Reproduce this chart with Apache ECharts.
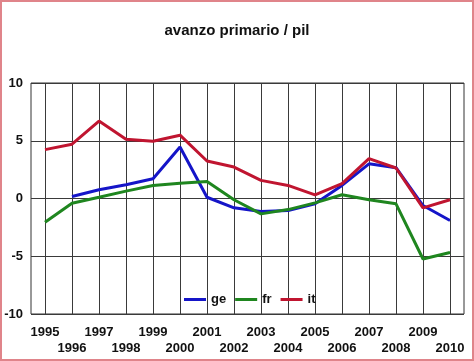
<!DOCTYPE html>
<html>
<head>
<meta charset="utf-8">
<script src="https://cdn.jsdelivr.net/npm/echarts@6/dist/echarts.min.js"></script>
<style>
html,body{margin:0;padding:0;background:#fff;}
#wrap{position:relative;width:474px;height:361px;}
#chart{width:474px;height:361px;}
#frame{position:absolute;left:0;top:0;width:474px;height:361px;box-sizing:border-box;border:2px solid #e0848a;pointer-events:none;}
</style>
</head>
<body>
<div id="wrap"><div id="chart"></div><div id="frame"></div></div>
<script>
const years = ['1995','1996','1997','1998','1999','2000','2001','2002','2003','2004','2005','2006','2007','2008','2009','2010'];
const ge = [null, 0.17, 0.76, 1.19, 1.71, 4.46, 0.11, -0.81, -1.13, -1.04, -0.46, 1.13, 3.0, 2.67, -0.61, -1.91];
const fr = [-2.06, -0.41, 0.11, 0.64, 1.13, 1.33, 1.48, -0.11, -1.33, -0.96, -0.38, 0.32, -0.11, -0.46, -5.24, -4.67];
const it = [4.23, 4.7, 6.7, 5.13, 4.96, 5.48, 3.25, 2.72, 1.57, 1.13, 0.32, 1.28, 3.45, 2.64, -0.81, -0.11];
const yMin = -10, yMax = 10, yStep = 5;

const chart = echarts.init(document.getElementById('chart'), null, {renderer: 'canvas'});
const font = 'Liberation Sans, Arial, sans-serif';
const mk = (name, data, color) => ({
  name, type: 'line', data, xAxisIndex: 1, yAxisIndex: 1,
  showSymbol: false, symbol: 'none', connectNulls: false,
  lineStyle: {color, width: 3}, itemStyle: {color},
  animation: false, z: 5
});
chart.setOption({
  backgroundColor: '#fff',
  animation: false,
  title: {
    text: 'avanzo primario / pil', left: 'center', top: 18,
    textStyle: {fontFamily: font, fontSize: 15, fontWeight: 'bold', color: '#111'}
  },
  legend: {
    left: 179, top: 288, itemWidth: 22, itemHeight: 3, itemGap: 9, icon: 'rect',
    textStyle: {fontFamily: font, fontSize: 13, fontWeight: 'bold', color: '#111'},
    data: ['ge', 'fr', 'it']
  },
  grid: [
    {left: 31, right: 10, top: 83, bottom: 47, show: true, borderColor: '#333', borderWidth: 1, backgroundColor: 'transparent'},
    {left: 45, right: 24, top: 83, bottom: 47}
  ],
  xAxis: [
    {type: 'value', gridIndex: 0, min: 0, max: 1, show: false},
    {type: 'category', gridIndex: 1, data: years, boundaryGap: false,
     axisLine: {show: false}, axisTick: {show: false},
     splitLine: {show: true, lineStyle: {color: '#3a3a3a', width: 1}},
     axisLabel: {margin: 10, interval: 0, fontFamily: font, fontSize: 13, fontWeight: 'bold', color: '#111', lineHeight: 16,
       formatter: (v, i) => (i % 2 ? '\n' + v : v)}}
  ],
  yAxis: [
    {type: 'value', gridIndex: 0, min: yMin, max: yMax, interval: yStep,
     axisLine: {show: false}, axisTick: {show: false},
     splitLine: {show: true, lineStyle: {color: '#3a3a3a', width: 1}},
     axisLabel: {margin: 8, fontFamily: font, fontSize: 13, fontWeight: 'bold', color: '#111'}},
    {type: 'value', gridIndex: 1, min: yMin, max: yMax, interval: yStep, show: false, splitLine: {show: false}}
  ],
  series: [
    mk('ge', ge, '#1515c8'),
    mk('fr', fr, '#1f861f'),
    mk('it', it, '#c01530')
  ]
});
</script>
</body>
</html>
